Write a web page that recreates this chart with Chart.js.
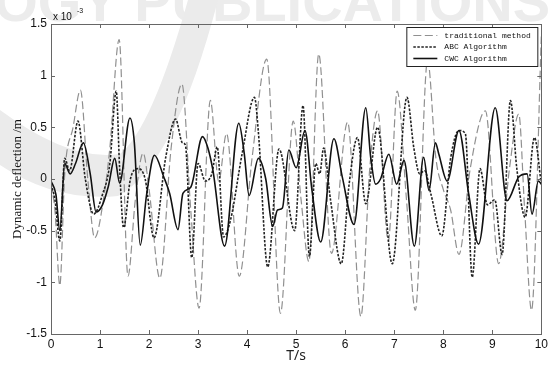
<!DOCTYPE html>
<html>
<head>
<meta charset="utf-8">
<script src="https://cdn.jsdelivr.net/npm/chart.js@4.4.1/dist/chart.umd.min.js"></script>
<style>
  html, body { margin: 0; padding: 0; background: #fff; }
  #wrap { width: 551px; height: 365px; position: relative; }
</style>
</head>
<body>
<div id="wrap"><canvas id="chart"></canvas></div>
<script>
// axis ticks (values in units of 1e-3 m)
const xTicks = [0, 1, 2, 3, 4, 5, 6, 7, 8, 9, 10];
const yTicks = [-1.5, -1, -0.5, 0, 0.5, 1, 1.5];
const seriesNames = ['traditional method', 'ABC Algorithm', 'CWC Algorithm'];

// traditional method (grey long dashes)
const tradT = [0, 0.08, 0.18, 0.28, 0.45, 0.60, 0.75, 0.89, 1.1, 1.2, 1.39, 1.57, 1.72, 1.88, 2.0, 2.22,
  2.45, 2.67, 2.85, 3.02, 3.25, 3.42, 3.58, 3.84, 4.1, 4.40, 4.68, 4.94, 5.1, 5.26, 5.46, 5.72, 6.05,
  6.32, 6.5, 6.66, 6.88, 7.06, 7.25, 7.43, 7.68, 7.85, 8.0, 8.15, 8.32, 8.55, 8.86, 9.13, 9.35, 9.54,
  9.66, 9.80, 10];
const tradV = [-0.05, -0.3, -1.03, 0.05, 0.5, 0.86, 0.0, -0.57, -0.1, 0.3, 1.35, -0.94, -0.2, 0.25, -0.1, -0.96,
  0.3, 0.92, -0.3, -1.25, 0.76, -0.02, 0.44, -0.94, 0.2, 1.16, -1.3, 0.56, -0.2, -0.8, 1.21, -0.72, 0.55,
  -1.33, 0.1, 0.66, -0.6, 0.85, -0.2, -1.27, 1.15, 0.2, -0.1, -0.3, -0.73, 0.1, 0.66, -0.82, 0.1, 0.63,
  -0.3, -1.27, 1.38];

// ABC Algorithm (black short dashes)
const abcT = [0, 0.08, 0.18, 0.28, 0.38, 0.55, 0.7, 0.87, 1.05, 1.2, 1.33, 1.40, 1.48, 1.62, 1.77, 1.92,
  2.10, 2.34, 2.54, 2.68, 2.74, 2.87, 3.0, 3.15, 3.28, 3.39, 3.52, 3.66, 3.9, 4.15, 4.23, 4.42, 4.65,
  4.97, 5.14, 5.27, 5.40, 5.48, 5.56, 5.7, 5.92, 6.08, 6.25, 6.42, 6.66, 6.96, 7.26, 7.40, 7.52, 7.62,
  7.75, 7.97, 8.15, 8.32, 8.45, 8.59, 8.75, 8.9, 9.05, 9.20, 9.37, 9.50, 9.67, 9.86, 10];
const abcV = [-0.05, -0.2, -0.6, 0.2, 0.08, 0.56, 0.0, -0.34, -0.15, 0.15, 0.85, 0.1, -0.47, 0.0, 0.1, 0.0,
  -0.57, 0.21, 0.58, 0.35, 0.33, -0.76, 0.15, -0.02, 0.05, 0.31, -0.56, -0.4, 0.25, 0.79, 0.45, -0.85, 0.29,
  -0.5, 0.71, -0.75, 0.15, 0.05, 0.3, -0.2, -0.82, -0.05, 0.4, -0.24, 0.5, -0.82, 0.79, 0.3, 0.05, 0.08,
  -0.15, -0.55, 0.2, 0.47, 0.44, -0.95, 0.1, -0.25, -0.2, -0.73, 0.76, 0.1, -0.37, 0.4, -0.05];

// CWC Algorithm (solid black)
const cwcT = [0, 0.1, 0.18, 0.28, 0.39, 0.5, 0.66, 0.8, 0.92, 1.05, 1.17, 1.30, 1.40, 1.61, 1.70, 1.82,
  1.95, 2.11, 2.3, 2.42, 2.59, 2.69, 2.85, 3.09, 3.2, 3.30, 3.54, 3.83, 3.94, 4.04, 4.23, 4.38, 4.52,
  4.62, 4.72, 4.85, 5.0, 5.18, 5.32, 5.50, 5.77, 5.94, 6.18, 6.42, 6.52, 6.62, 6.72, 6.89, 7.05, 7.20,
  7.41, 7.60, 7.71, 7.84, 7.91, 8.08, 8.32, 8.52, 8.72, 9.06, 9.30, 9.54, 9.71, 9.81, 9.94, 10];
const cwcV = [-0.02, -0.15, -0.5, 0.15, 0.05, 0.15, 0.35, 0.05, -0.32, -0.25, -0.07, 0.2, -0.04, 0.59, 0.35, -0.64,
  -0.15, 0.23, 0.02, -0.14, -0.49, -0.14, -0.08, 0.41, 0.3, 0.09, -0.65, 0.54, 0.25, -0.16, 0.2, 0.0, -0.46,
  -0.3, -0.28, 0.28, 0.11, 0.47, -0.1, -0.61, 0.39, 0.02, -0.44, 0.69, 0.21, -0.05, 0.0, 0.24, -0.05, 0.18,
  -0.65, 0.21, -0.11, 0.35, 0.24, -0.02, 0.47, -0.15, -0.63, 0.69, -0.21, 0.02, 0.05, -0.34, -0.02, -0.05];

function toPoints(ts, vs) {
    return ts.map((t, i) => ({ x: t, y: vs[i] }));
}

// frame, inward ticks, exponent, legend box and the faint watermark
const decorPlugin = {
    id: 'decor',
    beforeDraw(chart) {
        const ctx = chart.ctx;
        ctx.save();
        ctx.fillStyle = '#ececec';
        ctx.font = 'bold 56px "Liberation Sans"';
        ctx.textAlign = 'right';
        ctx.textBaseline = 'alphabetic';
        ctx.fillText('NOLOGY PUBLICATIONS', 550, 21);

        ctx.fillStyle = '#ebebeb';
        ctx.beginPath();
        ctx.moveTo(0, 110);
        ctx.quadraticCurveTo(70, 162, 120, 154);
        ctx.quadraticCurveTo(152, 128, 188, 0);
        ctx.lineTo(218, 0);
        ctx.quadraticCurveTo(175, 165, 118, 196);
        ctx.quadraticCurveTo(55, 202, 0, 165);
        ctx.closePath();
        ctx.fill();
        ctx.restore();
    },
    afterDatasetsDraw(chart) {
        const ctx = chart.ctx;
        const { left, right, top, bottom } = chart.chartArea;
        const xs = chart.scales.x, ys = chart.scales.y;
        ctx.save();

        // box
        ctx.strokeStyle = '#666';
        ctx.lineWidth = 1;
        ctx.strokeRect(Math.round(left) + 0.5, Math.round(top) + 0.5, Math.round(right - left), Math.round(bottom - top));

        // inward ticks on all four sides
        ctx.beginPath();
        xTicks.forEach(v => {
            const px = Math.round(xs.getPixelForValue(v)) + 0.5;
            ctx.moveTo(px, bottom); ctx.lineTo(px, bottom - 4);
            ctx.moveTo(px, top); ctx.lineTo(px, top + 4);
        });
        yTicks.forEach(v => {
            const py = Math.round(ys.getPixelForValue(v)) + 0.5;
            ctx.moveTo(left, py); ctx.lineTo(left + 4, py);
            ctx.moveTo(right, py); ctx.lineTo(right - 4, py);
        });
        ctx.stroke();

        // x 10^-3
        ctx.fillStyle = '#111';
        ctx.textAlign = 'left';
        ctx.textBaseline = 'alphabetic';
        ctx.font = '10px "Liberation Sans"';
        ctx.fillText('x 10', left + 2, top - 4);
        ctx.font = '7px "Liberation Sans"';
        ctx.fillText('-3', left + 26, top - 11);

        // legend
        const bx = right - 135, by = top + 3, bw = 131, bh = 39;
        ctx.fillStyle = '#fff';
        ctx.fillRect(bx, by, bw, bh);
        ctx.strokeStyle = '#222';
        ctx.strokeRect(bx + 0.5, by + 0.5, bw, bh);
        ctx.font = '8px "Liberation Mono"';
        ctx.textBaseline = 'middle';
        chart.data.datasets.forEach((ds, i) => {
            const ly = by + 8.5 + i * 11.5;
            ctx.beginPath();
            ctx.strokeStyle = ds.borderColor;
            ctx.lineWidth = ds.borderWidth;
            ctx.setLineDash(ds.borderDash || []);
            ctx.moveTo(bx + 7, ly);
            ctx.lineTo(bx + 31, ly);
            ctx.stroke();
            ctx.setLineDash([]);
            ctx.fillStyle = '#111';
            ctx.fillText(ds.label, bx + 38, ly);
        });
        ctx.restore();
    }
};

const chartCtx = document.getElementById('chart').getContext('2d');

new Chart(chartCtx, {
    type: 'line',
    data: {
        datasets: [{
            label: seriesNames[0],
            data: toPoints(tradT, tradV),
            borderColor: '#909090',
            borderWidth: 1.2,
            borderDash: [8, 3.5],
            order: 3
        }, {
            label: seriesNames[1],
            data: toPoints(abcT, abcV),
            borderColor: '#222',
            borderWidth: 1.6,
            borderDash: [2.5, 1.5],
            order: 2
        }, {
            label: seriesNames[2],
            data: toPoints(cwcT, cwcV),
            borderColor: '#111',
            borderWidth: 1.6,
            order: 1
        }]
    },
    options: {
        responsive: true,
        maintainAspectRatio: false,
        animation: false,
        layout: { padding: { top: 24, right: 8, left: 0, bottom: 0 } },
        elements: {
            point: { radius: 0 },
            line: { cubicInterpolationMode: 'monotone', fill: false }
        },
        plugins: {
            legend: { display: false },
            tooltip: { enabled: false }
        },
        scales: {
            x: {
                type: 'linear',
                min: 0,
                max: 10,
                afterBuildTicks: s => { s.ticks = xTicks.map(v => ({ value: v })); },
                afterFit: s => { s.height = 31; },
                grid: { display: false, drawTicks: false },
                border: { display: false },
                ticks: {
                    autoSkip: false,
                    maxRotation: 0,
                    padding: 3,
                    color: '#111',
                    font: { family: 'Liberation Sans', size: 12 }
                },
                title: {
                    display: true,
                    text: 'T/s',
                    color: '#222',
                    padding: { top: 0, bottom: 1 },
                    font: { family: 'Noto Sans', size: 14 }
                }
            },
            y: {
                type: 'linear',
                min: -1.5,
                max: 1.5,
                afterBuildTicks: s => { s.ticks = yTicks.map(v => ({ value: v })); },
                afterFit: s => { s.width = 51; },
                grid: { display: false, drawTicks: false },
                border: { display: false },
                ticks: {
                    padding: 4,
                    color: '#111',
                    font: { family: 'Liberation Sans', size: 12 },
                    callback: v => String(v)
                },
                title: {
                    display: true,
                    text: 'Dynamic deflection /m',
                    color: '#111',
                    padding: { top: 10, bottom: 0 },
                    font: { family: 'Liberation Serif', size: 13 }
                }
            }
        }
    },
    plugins: [decorPlugin]
});
</script>
</body>
</html>
